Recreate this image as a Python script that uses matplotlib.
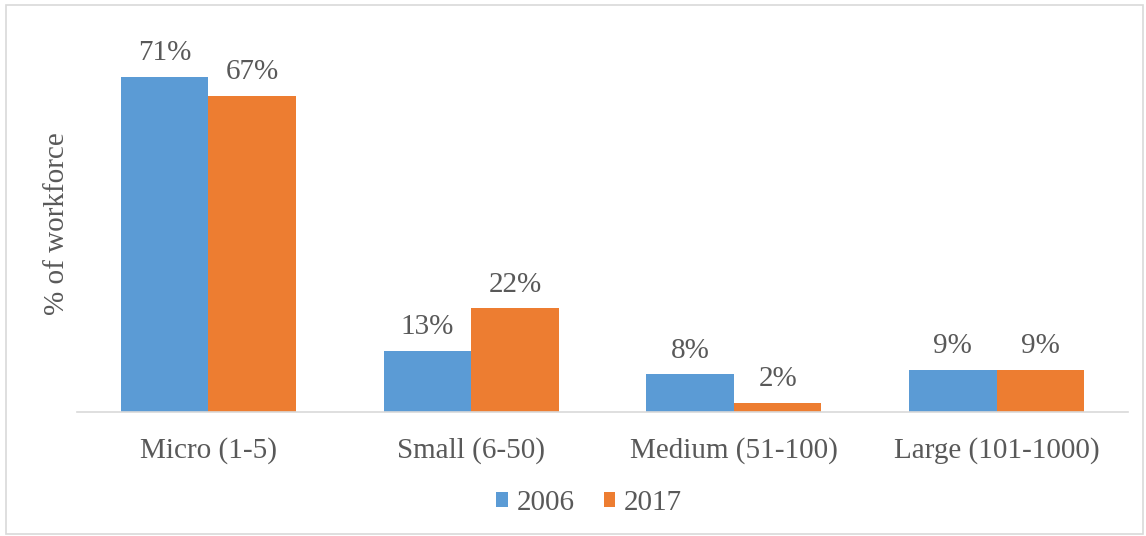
import matplotlib.pyplot as plt
import numpy as np

categories = ["Micro (1-5)", "Small (6-50)", "Medium (51-100)", "Large (101-1000)"]
years = ["2006", "2017"]
share_2006 = [71, 13, 8, 9]
share_2017 = [67, 22, 2, 9]

colors = ["#5B9BD5", "#ED7D31"]
text_color = "#595959"

plt.rcParams["font.family"] = ["Liberation Serif", "DejaVu Serif"]
plt.rcParams["font.size"] = 21

fig = plt.figure(figsize=(11.46, 5.36), dpi=100)
ax = fig.add_axes([0.0672, 0.2313, 0.9171, 0.7045])

x = np.arange(len(categories))
width = 0.333
for i, (vals, year) in enumerate(zip([share_2006, share_2017], years)):
    offset = (i - 0.5) * width
    bars = ax.bar(x + offset, vals, width, color=colors[i], label=year, zorder=2)
    for b, v in zip(bars, vals):
        ax.annotate("{}%".format(v), (b.get_x() + b.get_width() / 2, v),
                    xytext=(0, 12), textcoords="offset points",
                    ha="center", va="baseline", color=text_color)

ax.set_xlim(-0.5, len(categories) - 0.5)
ax.set_ylim(0, 80)
ax.set_yticks([])
ax.set_xticks(x)
ax.set_xticklabels(categories, color=text_color)
ax.tick_params(axis="x", length=0, pad=18)
for side in ["top", "right", "left"]:
    ax.spines[side].set_visible(False)
ax.spines["bottom"].set_color("#D9D9D9")
ax.spines["bottom"].set_linewidth(1.2)

fig.text(0.05, 0.582, "% of workforce", rotation=90, ha="center", va="center",
         color=text_color)

leg = ax.legend(loc="center", bbox_to_anchor=(0.514, 0.0615), bbox_transform=fig.transFigure,
                ncol=2, frameon=False, handlelength=0.4, handleheight=0.4,
                handletextpad=0.3, columnspacing=1.0)
for t in leg.get_texts():
    t.set_color(text_color)

# light frame around the whole figure
fig.patches.append(plt.Rectangle((0.005, 0.004), 0.992, 0.986, transform=fig.transFigure,
                                 fill=False, edgecolor="#D9D9D9", linewidth=1.2))

fig.savefig("out.png", dpi=100)
